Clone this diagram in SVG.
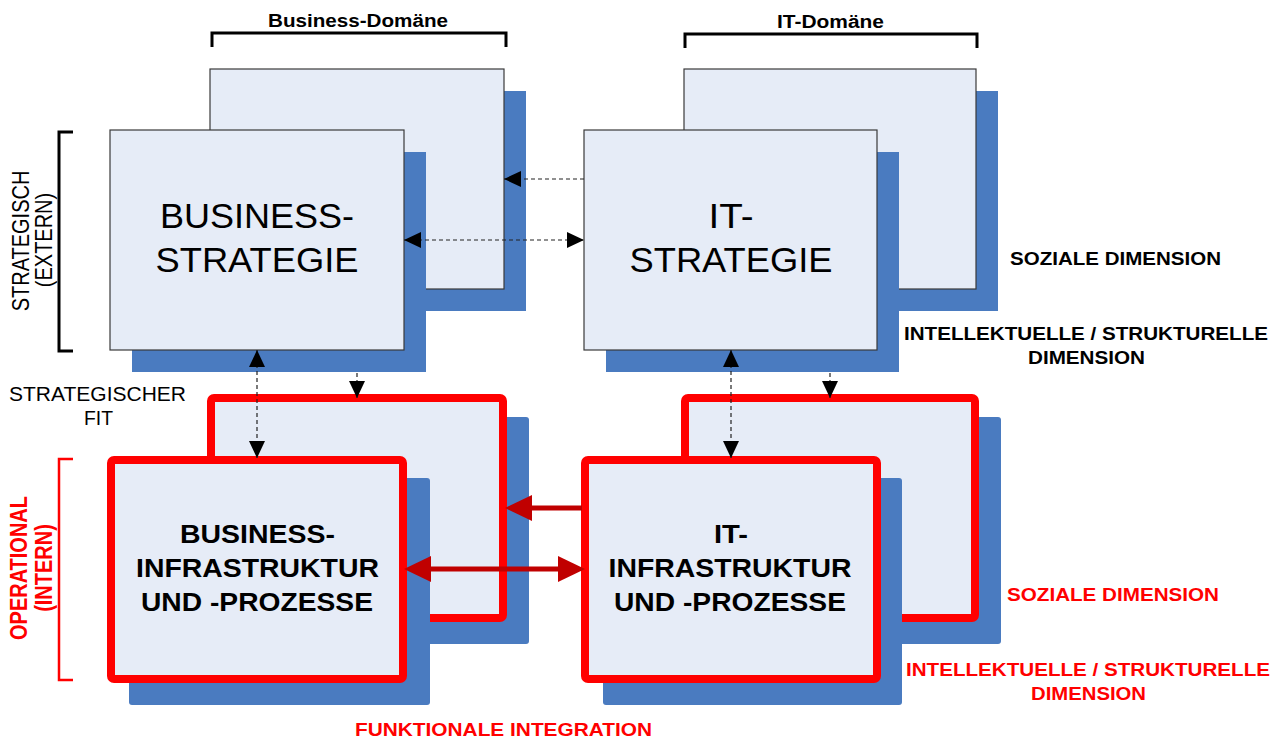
<svg xmlns="http://www.w3.org/2000/svg" width="1284" height="740" viewBox="0 0 1284 740">
<style>
.bg{fill:#ffffff}
.shadow{fill:#4A7BC0}
.box{fill:#E6ECF7;stroke:#3a3a3a;stroke-width:1.2}
.rbox{fill:#E6ECF7;stroke:#FF0000;stroke-width:8}
.t{font-family:"Liberation Sans",Arial,sans-serif;fill:#000}
.b{font-weight:bold}
.red{fill:#FF0000}
.big{font-size:35px}
.mid{font-size:26.5px;font-weight:bold}
.lab{font-size:19px;font-weight:bold}
.side{font-size:20px}
.dash{stroke:#222;stroke-width:1.2;stroke-dasharray:4,3;fill:none}
.rarr{stroke:#C00000;stroke-width:5;fill:none}
.brk{stroke:#000;stroke-width:3;fill:none}
.rbrk{stroke:#FF0000;stroke-width:2.5;fill:none}
</style>
<defs>
<marker id="ah" markerUnits="userSpaceOnUse" markerWidth="18" markerHeight="17" refX="17" refY="8" orient="auto-start-reverse">
<path d="M0,0 L17,8 L0,16 z" fill="#000"/>
</marker>
<marker id="rah" markerUnits="userSpaceOnUse" markerWidth="28" markerHeight="28" refX="20" refY="13" orient="auto-start-reverse">
<path d="M0,0 L27,13 L0,26 z" fill="#C00000"/>
</marker>
</defs>
<rect class="bg" x="0" y="0" width="1284" height="740"/>

<g id="brackets">
<path class="brk" d="M212,47 V33 H506 V47"/>
<path class="brk" d="M685,48 V34 H977 V48"/>
<path class="brk" d="M73,132 H59 V351 H73"/>
<path class="rbrk" d="M73,459 H59 V680 H73"/>
</g>

<g id="business-strategy-back">
<rect class="shadow" x="232" y="91" width="294" height="220"/>
<rect class="box" x="210" y="69" width="294" height="220"/>
</g>
<g id="business-strategy">
<rect class="shadow" x="132" y="152" width="294" height="220"/>
<rect class="box" x="110" y="130" width="294" height="220"/>
<text class="t big" x="257" y="228" text-anchor="middle" textLength="194" lengthAdjust="spacingAndGlyphs">BUSINESS-</text>
<text class="t big" x="257" y="272" text-anchor="middle" textLength="203" lengthAdjust="spacingAndGlyphs">STRATEGIE</text>
</g>

<g id="it-strategy-back">
<rect class="shadow" x="706" y="91" width="292" height="220"/>
<rect class="box" x="684" y="69" width="292" height="220"/>
</g>
<g id="it-strategy">
<rect class="shadow" x="606" y="152" width="293" height="220"/>
<rect class="box" x="584" y="130" width="293" height="220"/>
<text class="t big" x="731" y="228" text-anchor="middle" textLength="45" lengthAdjust="spacingAndGlyphs">IT-</text>
<text class="t big" x="731" y="272" text-anchor="middle" textLength="203" lengthAdjust="spacingAndGlyphs">STRATEGIE</text>
</g>

<g id="business-infra-back">
<rect class="shadow" x="229" y="417" width="300" height="227" rx="3"/>
<rect class="rbox" x="211" y="398" width="292" height="220" rx="3"/>
</g>
<g id="business-infra">
<rect class="shadow" x="129" y="478" width="301" height="227" rx="3"/>
<rect class="rbox" x="111" y="460" width="292" height="219" rx="3"/>
<text class="t mid" x="257.5" y="543" text-anchor="middle" textLength="155" lengthAdjust="spacingAndGlyphs">BUSINESS-</text>
<text class="t mid" x="257.5" y="577" text-anchor="middle" textLength="243" lengthAdjust="spacingAndGlyphs">INFRASTRUKTUR</text>
<text class="t mid" x="257" y="611" text-anchor="middle" textLength="232" lengthAdjust="spacingAndGlyphs">UND -PROZESSE</text>
</g>

<g id="it-infra-back">
<rect class="shadow" x="703" y="417" width="298" height="227" rx="3"/>
<rect class="rbox" x="685" y="398" width="290" height="220" rx="3"/>
</g>
<g id="it-infra">
<rect class="shadow" x="603" y="478" width="299" height="227" rx="3"/>
<rect class="rbox" x="585" y="460" width="292" height="219" rx="3"/>
<text class="t mid" x="731" y="543" text-anchor="middle" textLength="34" lengthAdjust="spacingAndGlyphs">IT-</text>
<text class="t mid" x="730" y="577" text-anchor="middle" textLength="243" lengthAdjust="spacingAndGlyphs">INFRASTRUKTUR</text>
<text class="t mid" x="730" y="611" text-anchor="middle" textLength="232" lengthAdjust="spacingAndGlyphs">UND -PROZESSE</text>
</g>

<g id="connectors">
<line class="dash" x1="584" y1="179" x2="504" y2="179" marker-end="url(#ah)"/>
<line class="dash" x1="404" y1="240" x2="584" y2="240" marker-start="url(#ah)" marker-end="url(#ah)"/>
<line class="dash" x1="257" y1="350" x2="257" y2="458" marker-start="url(#ah)" marker-end="url(#ah)"/>
<line class="dash" x1="357" y1="373" x2="357" y2="398" marker-end="url(#ah)"/>
<line class="dash" x1="731" y1="350" x2="731" y2="458" marker-start="url(#ah)" marker-end="url(#ah)"/>
<line class="dash" x1="830" y1="373" x2="830" y2="398" marker-end="url(#ah)"/>
<line class="rarr" x1="582" y1="508" x2="512" y2="508" marker-end="url(#rah)"/>
<line class="rarr" x1="411" y1="569" x2="578" y2="569" marker-start="url(#rah)" marker-end="url(#rah)"/>
</g>

<g id="labels">
<text class="t b" x="358" y="27" font-size="18" text-anchor="middle" textLength="180" lengthAdjust="spacingAndGlyphs">Business-Domäne</text>
<text class="t b" x="830.5" y="28" font-size="18" text-anchor="middle" textLength="107" lengthAdjust="spacingAndGlyphs">IT-Domäne</text>
<text class="t side" transform="translate(29,241) scale(1.2,1) rotate(-90)" text-anchor="middle">STRATEGISCH</text>
<text class="t side" transform="translate(52,240) scale(1.2,1) rotate(-90)" text-anchor="middle">(EXTERN)</text>
<text class="t side b red" transform="translate(27,568) scale(1.2,1) rotate(-90)" text-anchor="middle">OPERATIONAL</text>
<text class="t side b red" transform="translate(52,568) scale(1.2,1) rotate(-90)" text-anchor="middle">(INTERN)</text>
<text class="t side" x="97.5" y="401" text-anchor="middle" textLength="177" lengthAdjust="spacingAndGlyphs">STRATEGISCHER</text>
<text class="t side" x="98.5" y="425" text-anchor="middle" textLength="29" lengthAdjust="spacingAndGlyphs">FIT</text>
<text class="t lab" x="1115.5" y="265" text-anchor="middle" textLength="211" lengthAdjust="spacingAndGlyphs">SOZIALE DIMENSION</text>
<text class="t lab" x="1086" y="340" text-anchor="middle" textLength="364" lengthAdjust="spacingAndGlyphs">INTELLEKTUELLE / STRUKTURELLE</text>
<text class="t lab" x="1086.5" y="364" text-anchor="middle" textLength="117" lengthAdjust="spacingAndGlyphs">DIMENSION</text>
<text class="t lab red" x="1113" y="601" text-anchor="middle" textLength="212" lengthAdjust="spacingAndGlyphs">SOZIALE DIMENSION</text>
<text class="t lab red" x="1088" y="676" text-anchor="middle" textLength="364" lengthAdjust="spacingAndGlyphs">INTELLEKTUELLE / STRUKTURELLE</text>
<text class="t lab red" x="1088.5" y="700" text-anchor="middle" textLength="115" lengthAdjust="spacingAndGlyphs">DIMENSION</text>
<text class="t lab red" x="503.5" y="736" text-anchor="middle" textLength="297" lengthAdjust="spacingAndGlyphs">FUNKTIONALE INTEGRATION</text>
</g>
</svg>
